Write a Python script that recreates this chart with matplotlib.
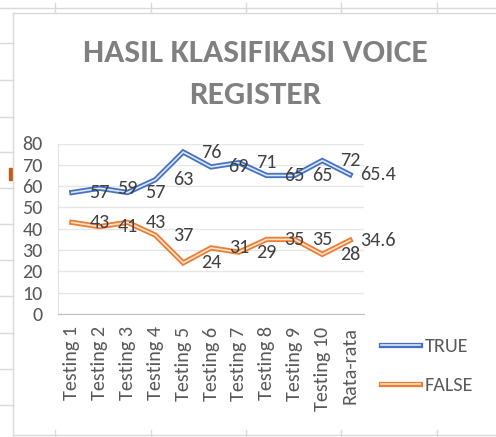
import matplotlib
matplotlib.use("Agg")
import matplotlib.pyplot as plt
from matplotlib.lines import Line2D
from matplotlib.patches import Rectangle

categories = ["Testing 1", "Testing 2", "Testing 3", "Testing 4", "Testing 5",
              "Testing 6", "Testing 7", "Testing 8", "Testing 9", "Testing 10", "Rata-rata"]
true_vals = [57, 59, 57, 63, 76, 69, 71, 65, 65, 72, 65.4]
false_vals = [43, 41, 43, 37, 24, 31, 29, 35, 35, 28, 34.6]
true_labels = ["57", "59", "57", "63", "76", "69", "71", "65", "65", "72", "65.4"]
false_labels = ["43", "41", "43", "37", "24", "31", "29", "35", "35", "28", "34.6"]
yticks = [0, 10, 20, 30, 40, 50, 60, 70, 80]

plt.rcParams["font.family"] = ["Carlito", "DejaVu Sans"]

W, H = 496, 437
fig = plt.figure(figsize=(W / 100, H / 100), dpi=100)
fig.patch.set_facecolor("white")

def px(x, y):
    return x / W, 1 - y / H

# spreadsheet-like background lines
grid_c = "#d9d9d9"
def fline(x0, y0, x1, y1, c=grid_c, lw=1.0):
    a = px(x0, y0); b = px(x1, y1)
    fig.add_artist(Line2D([a[0], b[0]], [a[1], b[1]], color=c, lw=lw, transform=fig.transFigure))

fline(0, 8, W, 8)
for xx in [55, 151, 246, 341, 437]:
    fline(xx, 3, xx, 13)
    fline(xx, 430, xx, 437)
fline(13, 13, W, 13)
fline(13, 13, 13, 435)
fline(13, 435, W, 435)
for yy in [43, 80, 117, 152, 188, 224, 260, 296, 333, 369, 405]:
    fline(0, yy, 13, yy)
a = px(9, 180)
fig.add_artist(Rectangle(a, 3 / W, 12 / H, color="#c55a11", transform=fig.transFigure))

# title
fig.text(0.514, px(0, 53)[1], "HASIL KLASIFIKASI VOICE", ha="center", va="center",
         fontsize=24, fontweight="bold", color="#808080")
fig.text(0.514, px(0, 95)[1], "REGISTER", ha="center", va="center",
         fontsize=24, fontweight="bold", color="#808080")

left, right = 58 / W, 364 / W
bottom, top = 1 - 314 / H, 1 - 143.5 / H
ax = fig.add_axes([left, bottom, right - left, top - bottom])
x = list(range(len(categories)))

blue, blue_in = "#4472C4", "#dfe7f5"
orange, orange_in = "#ED7D31", "#fbe3d2"
h_true = []
h_false = []
for vals, c, ci, store in [(true_vals, blue, blue_in, h_true), (false_vals, orange, orange_in, h_false)]:
    l1, = ax.plot(x, vals, color=c, lw=3.8, solid_joinstyle="miter", zorder=3)
    l2, = ax.plot(x, vals, color=ci, lw=1.2, solid_joinstyle="miter", zorder=4)
    store.extend([l1, l2])

for i, (v, s) in enumerate(zip(true_vals, true_labels)):
    ax.text(i + 1, v, s, ha="center", va="center", fontsize=14.5, color="#404040", clip_on=False, zorder=5)
for i, (v, s) in enumerate(zip(false_vals, false_labels)):
    ax.text(i + 1, v, s, ha="center", va="center", fontsize=14.5, color="#404040", clip_on=False, zorder=5)

ax.set_xlim(-0.5, len(categories) - 0.5)
ax.set_ylim(0, 80)
ax.set_yticks(yticks)
ax.set_yticklabels([str(t) for t in yticks], fontsize=14.5, color="#595959")
ax.set_xticks(x)
ax.set_xticklabels(categories, rotation=90, fontsize=14.5, color="#595959")
ax.tick_params(axis="both", length=0)
ax.tick_params(axis="y", pad=11)
ax.tick_params(axis="x", pad=9)
ax.grid(axis="y", color="#e6e6e6", lw=1)
ax.set_axisbelow(True)
for s in ["top", "right"]:
    ax.spines[s].set_visible(False)
ax.spines["left"].set_color("#e0e0e0")
ax.spines["bottom"].set_color("#bfbfbf")

leg = fig.legend([tuple(h_true), tuple(h_false)], ["TRUE", "FALSE"],
                 loc="center left", bbox_to_anchor=(px(373, 0)[0], px(0, 366)[1]),
                 frameon=False, fontsize=14.5, handlelength=1.95, labelspacing=1.1,
                 handletextpad=0.2, borderaxespad=0)
for t in leg.get_texts():
    t.set_color("#595959")

fig.savefig("out.png", dpi=100)
